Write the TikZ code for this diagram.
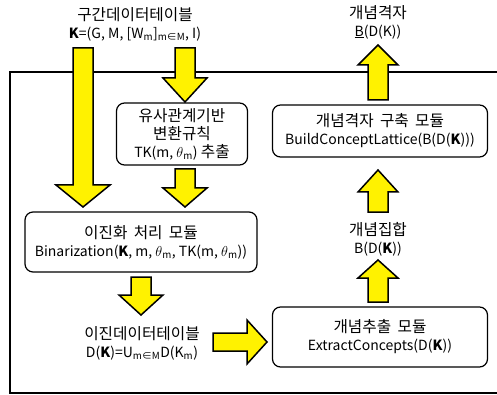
\documentclass[tikz,border=0pt]{standalone}
\usepackage{fontspec}
\setmainfont{Noto Sans CJK KR}
\newfontfamily\krfont{Noto Sans CJK KR}[Scale=1.12, WordSpace=1.8]
\newcommand\kr[1]{{\krfont #1}}
\newcommand\ksub[1]{\textsubscript{#1}}
\newcommand\thm{\ensuremath{\theta}}
\tikzset{
  yarr/.style={fill=yellow, draw=black, line width=1.5pt, line join=miter},
  modbox/.style={draw=black, line width=1.2pt, rounded corners=8pt, align=center, inner sep=0pt},
  lbl/.style={align=center, inner sep=0pt},
  txt/.style={font=\fontsize{14}{18}\selectfont}
}
\newcommand\yarrv[6]{% x, yend, ybase, ytip, shafthalf, headhalf
  \filldraw[yarr] (#1-#5,#2) -- (#1+#5,#2) -- (#1+#5,#3) -- (#1+#6,#3) -- (#1,#4) -- (#1-#6,#3) -- (#1-#5,#3) -- cycle;}
\newcommand\yarrh[6]{% y, xend, xbase, xtip, shafthalf, headhalf
  \filldraw[yarr] (#2,#1-#5) -- (#3,#1-#5) -- (#3,#1-#6) -- (#4,#1) -- (#3,#1+#6) -- (#3,#1+#5) -- (#2,#1+#5) -- cycle;}
\begin{document}
\begin{tikzpicture}[x=1pt,y=-1pt, txt]
\useasboundingbox (0,0) rectangle (497,395);
% frame
\draw[line width=1.2pt] (497,72) -- (10,72) -- (10,393) -- (497,393);
% nodes
\node[lbl] (kin) at (135,24) {\kr{구간데이터테이블}\\\textbf{K}=(G, M, [W\ksub{m}]\ksub{m∈M}, I)};
\node[lbl] (lat) at (378,22) {\kr{개념격자}\\\underline{B}(D(K))};
\node[modbox, minimum width=131pt, minimum height=62pt] (tk) at (182,134) {\kr{유사관계기반}\\\kr{변환규칙}\\TK(m, \thm\ksub{m}) \kr{추출}};
\node[modbox, minimum width=232pt, minimum height=60pt] (bin) at (141,242) {\kr{이진화 처리 모듈}\\Binarization(\textbf{K}, m, \thm\ksub{m}, TK(m, \thm\ksub{m}))};
\node[lbl] (dk) at (142,343) {\kr{이진데이터테이블}\\D(\textbf{K})=U\ksub{m∈M}D(K\ksub{m})};
\node[modbox, minimum width=215pt, minimum height=60pt] (ext) at (380,337) {\kr{개념추출 모듈}\\ExtractConcepts(D(\textbf{K}))};
\node[lbl] (bset) at (378,239) {\kr{개념집합}\\B(D(\textbf{K}))};
\node[modbox, minimum width=215pt, minimum height=52pt] (build) at (380,131) {\kr{개념격자 구축 모듈}\\BuildConceptLattice(B(D(\textbf{K})))};
% block arrows
\yarrv{83}{48}{185}{207}{10}{27}
\yarrv{185}{48}{78}{102}{10}{22}
\yarrv{185}{169}{188}{207}{10}{22}
\yarrv{141}{277}{295}{315}{10}{22}
\yarrh{342}{213}{247}{267}{9}{22}
\yarrv{378}{302}{278}{260}{10}{20}
\yarrv{378}{212}{192}{170}{10}{20}
\yarrv{378}{100}{65}{45}{10}{20}
\end{tikzpicture}
\end{document}
